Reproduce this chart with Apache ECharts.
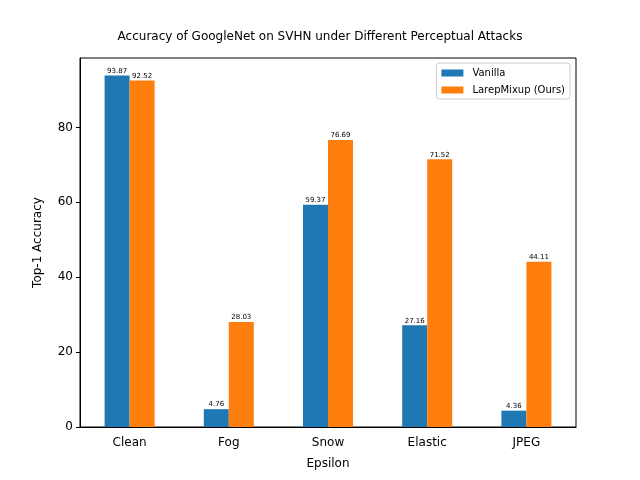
<!DOCTYPE html>
<html><head><meta charset="utf-8">
<script src="https://cdn.jsdelivr.net/npm/echarts@6/dist/echarts.min.js"></script>
<style>html,body{margin:0;padding:0;background:#fff}#c{width:640px;height:480px}</style>
</head><body><div id="c"></div>
<script>
const categories = ['Clean', 'Fog', 'Snow', 'Elastic', 'JPEG'];
const vanilla = [93.87, 4.76, 59.37, 27.16, 4.36];
const larep = [92.52, 28.03, 76.69, 71.52, 44.11];
const yTicks = [0, 20, 40, 60, 80];

const F = 'DejaVu Sans';
const chart = echarts.init(document.getElementById('c'), null, {renderer: 'canvas'});
const lbl = {show: true, position: 'top', distance: 1, fontFamily: F, fontSize: 7, color: '#000', formatter: p => p.value.toFixed(2)};
chart.setOption({
  animation: false,
  backgroundColor: '#fff',
  title: {text: 'Accuracy of GoogleNet on SVHN under Different Perceptual Attacks', left: 'center', top: 26,
    textStyle: {fontFamily: F, fontSize: 12, fontWeight: 'normal', color: '#000'}},
  grid: {left: 80, right: 64, top: 58, bottom: 53, show: true, borderColor: '#000', borderWidth: 1, backgroundColor: 'transparent'},
  legend: {orient: 'vertical', right: 70, top: 63, itemWidth: 22, itemHeight: 7, itemGap: 7,
    backgroundColor: '#fff', borderColor: '#ccc', borderWidth: 1, borderRadius: 3, padding: [5, 5, 4, 5],
    textStyle: {fontFamily: F, fontSize: 10, color: '#000', padding: [0, 0, 0, 4]}, icon: 'rect',
    data: ['Vanilla', 'LarepMixup (Ours)']},
  xAxis: {type: 'category', data: categories, name: 'Epsilon', nameLocation: 'middle', nameGap: 31,
    nameTextStyle: {fontFamily: F, fontSize: 12, color: '#000'},
    axisLine: {lineStyle: {color: '#000'}}, axisTick: {alignWithLabel: true, length: 4, lineStyle: {color: '#000'}},
    axisLabel: {fontFamily: F, fontSize: 12, color: '#000', margin: 10}},
  yAxis: {type: 'value', min: 0, max: 98.56, name: 'Top-1 Accuracy', nameLocation: 'middle', nameGap: 36,
    nameTextStyle: {fontFamily: F, fontSize: 12, color: '#000'},
    axisLine: {show: true, lineStyle: {color: '#000'}},
    axisTick: {show: true, length: 4, lineStyle: {color: '#000'}, customValues: yTicks},
    splitLine: {show: false},
    axisLabel: {fontFamily: F, fontSize: 12, color: '#000', margin: 7, customValues: yTicks}},
  series: [
    {name: 'Vanilla', type: 'bar', data: vanilla, barWidth: 25, barGap: '0%', itemStyle: {color: '#1f77b4'}, label: lbl},
    {name: 'LarepMixup (Ours)', type: 'bar', data: larep, barWidth: 25, itemStyle: {color: '#ff7f0e'}, label: lbl}
  ]
});
</script></body></html>
